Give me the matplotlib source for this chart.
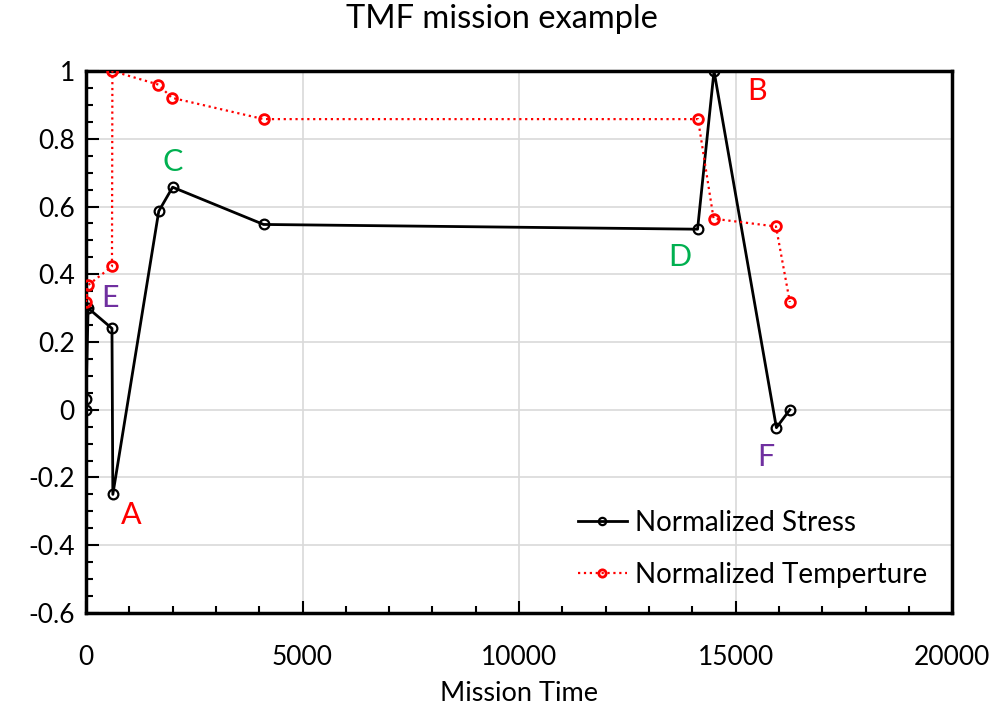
import matplotlib.pyplot as plt
from matplotlib.ticker import MultipleLocator

plt.rcParams['font.family'] = ['Lato', 'DejaVu Sans']

# mission data
stress_time = [0, 0, 50, 600, 620, 1680, 2000, 4100, 14120, 14500, 15940, 16250]
stress_val = [0.0, 0.033, 0.30, 0.24, -0.25, 0.586, 0.657, 0.547, 0.533, 1.0, -0.053, 0.0]

temp_time = [0, 40, 600, 610, 1670, 1980, 4100, 14130, 14490, 15930, 16250]
temp_val = [0.318, 0.367, 0.423, 1.0, 0.96, 0.921, 0.858, 0.858, 0.564, 0.541, 0.318]

labels = ['A', 'B', 'C', 'D', 'E', 'F']
label_x = [1050, 15500, 2000, 13700, 550, 15700]
label_y = [-0.31, 0.94, 0.73, 0.45, 0.33, -0.14]
label_colors = ['red', 'red', '#00b050', '#00b050', '#7030a0', '#7030a0']

fig = plt.figure(figsize=(9.94, 7.13), dpi=100)
ax = fig.add_axes([0.0865, 0.1403, 0.8715, 0.7601])

ax.plot(stress_time, stress_val, color='black', lw=2, marker='o', ms=7,
        mfc='none', mec='black', mew=1.6, label='Normalized Stress', zorder=3)
ax.plot(temp_time, temp_val, color='red', lw=1.6, ls=':', marker='o', ms=7,
        mfc='none', mec='red', mew=2, label='Normalized Temperture', zorder=3)

for t, x, y, c in zip(labels, label_x, label_y, label_colors):
    ax.text(x, y, t, color=c, fontsize=22, ha='center', va='center')

ax.set_xlim(0, 20000)
ax.set_ylim(-0.6, 1.0)
ax.xaxis.set_major_locator(MultipleLocator(5000))
ax.xaxis.set_minor_locator(MultipleLocator(1000))
ax.yaxis.set_minor_locator(MultipleLocator(0.05))
ax.set_yticks([-0.6, -0.4, -0.2, 0, 0.2, 0.4, 0.6, 0.8, 1.0])
ax.set_yticklabels(['-0.6', '-0.4', '-0.2', '0', '0.2', '0.4', '0.6', '0.8', '1'])
ax.tick_params(which='major', direction='in', length=9, width=1.5, labelsize=19)
ax.tick_params(axis='x', which='major', pad=23)
ax.tick_params(axis='y', which='major', pad=8)
ax.tick_params(which='minor', direction='in', length=5, width=1.5)
ax.grid(True, which='major', color='#d9d9d9', lw=1.2)
ax.set_axisbelow(True)
for s in ax.spines.values():
    s.set_linewidth(2.5)

ax.set_xlabel('Mission Time', fontsize=19.5, labelpad=8)
fig.suptitle('TMF mission example', fontsize=23.5, x=0.505, y=0.995)

ax.legend(loc='lower right', bbox_to_anchor=(1.0, 0.0), frameon=False,
          fontsize=20, handlelength=1.75, handletextpad=0.3, labelspacing=0.95,
          markerscale=0.75)

fig.savefig('out.png', dpi=100)
